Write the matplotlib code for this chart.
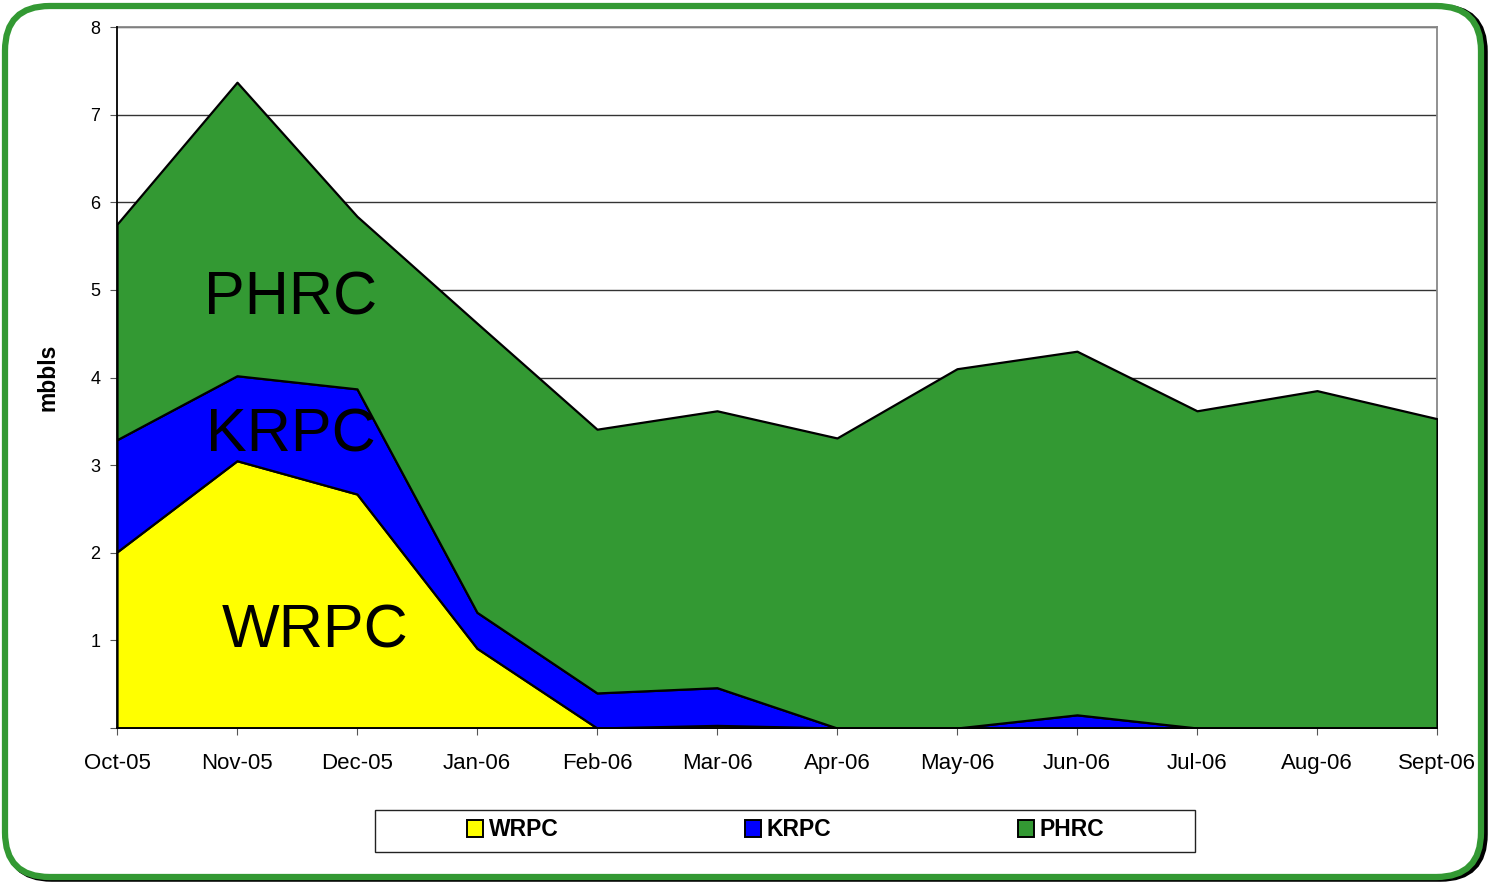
import matplotlib
matplotlib.use("Agg")
import matplotlib.pyplot as plt
from matplotlib.patches import FancyBboxPatch, Patch, Rectangle
import numpy as np

plt.rcParams['font.family'] = ['Liberation Sans', 'DejaVu Sans']

months = ["Oct-05", "Nov-05", "Dec-05", "Jan-06", "Feb-06", "Mar-06",
          "Apr-06", "May-06", "Jun-06", "Jul-06", "Aug-06", "Sept-06"]
wrpc = [2.01, 3.05, 2.67, 0.91, 0.0, 0.03, 0.0, 0.0, 0.0, 0.0, 0.0, 0.0]
krpc = [1.28, 0.97, 1.20, 0.41, 0.40, 0.43, 0.0, 0.0, 0.15, 0.0, 0.0, 0.0]
phrc = [2.46, 3.35, 1.97, 3.30, 3.01, 3.16, 3.31, 4.10, 4.15, 3.62, 3.85, 3.53]
yticks = [1, 2, 3, 4, 5, 6, 7, 8]
series_names = ['WRPC', 'KRPC', 'PHRC']

W, H = 1491, 883
fig = plt.figure(figsize=(W / 100, H / 100), dpi=100)

# rounded border with shadow
shadow = FancyBboxPatch((7 / W, 4 / H), 1478 / W, 872 / H,
                        boxstyle="round,pad=0,rounding_size=0.03",
                        transform=fig.transFigure, facecolor='none',
                        edgecolor='black', linewidth=4, zorder=-2,
                        mutation_aspect=W / H)
border = FancyBboxPatch((5 / W, 6 / H), 1476 / W, 871 / H,
                        boxstyle="round,pad=0,rounding_size=0.03",
                        transform=fig.transFigure, facecolor='white',
                        edgecolor='#339933', linewidth=4.5, zorder=-1,
                        mutation_aspect=W / H)
legbox = Rectangle((375 / W, 1 - 852 / H), 820 / W, 42 / H,
                   transform=fig.transFigure, facecolor='white',
                   edgecolor='#222222', linewidth=1.0, zorder=1)
fig.patches.extend([shadow, border, legbox])

ax = fig.add_axes([117 / W, 1 - 728 / H, (1437 - 117) / W, (728 - 27) / H])
ax.set_zorder(2)
ax.set_facecolor('none')
x = np.arange(len(months))
colors = ['#ffff00', '#0000ff', '#339933']
polys = ax.stackplot(x, wrpc, krpc, phrc, colors=colors,
                     edgecolor='black', linewidth=1.6, zorder=3)

ax.set_xlim(0, len(months) - 1)
ax.set_ylim(0, 8)
ax.set_yticks([0] + yticks)
ax.set_yticklabels([''] + [str(v) for v in yticks])
ax.set_xticks(x)
ax.set_xticklabels(months)
ax.yaxis.grid(True, color='#333333', linewidth=1.0, zorder=1)
ax.set_axisbelow(True)
ax.tick_params(axis='both', direction='out', labelsize=16, length=5,
               color='#555555')
ax.tick_params(axis='x', pad=13)
ax.tick_params(axis='y', pad=7, labelsize=13)
for s in ['left', 'bottom']:
    ax.spines[s].set_color('black')
    ax.spines[s].set_linewidth(1.3)
    ax.spines[s].set_zorder(5)
for s in ['right', 'top']:
    ax.spines[s].set_color('#888888')
    ax.spines[s].set_linewidth(1.3)
ax.set_ylabel('mbbls', fontsize=16.5, fontweight='bold', labelpad=22)

ax.text(1.45, 4.9, 'PHRC', fontsize=44, ha='center', va='center', zorder=6)
ax.text(1.45, 3.33, 'KRPC', fontsize=44, ha='center', va='center', zorder=6)
ax.text(1.65, 1.1, 'WRPC', fontsize=44, ha='center', va='center', zorder=6)

handles = [Patch(facecolor=c, edgecolor='black', linewidth=1.4, label=l)
           for c, l in zip(colors, series_names)]
leg = fig.legend(handles=handles, loc='center left',
                 bbox_to_anchor=(467 / W, 1 - 830 / H), ncol=3,
                 frameon=False, prop={'weight': 'bold', 'size': 16.5},
                 handlelength=0.7, handleheight=0.7, handletextpad=0.25,
                 columnspacing=8.13, borderpad=0, borderaxespad=0)
leg.set_zorder(10)

fig.savefig('out.png', dpi=100)
